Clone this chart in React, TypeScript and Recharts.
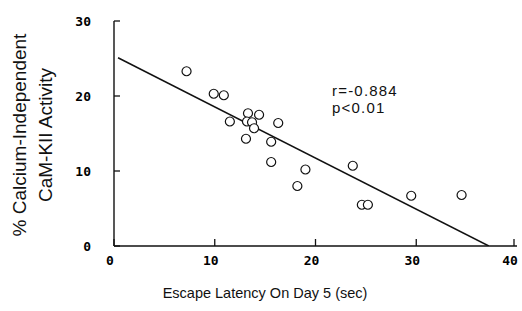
import React from 'react';
import { ScatterChart, Scatter, XAxis, YAxis, ZAxis } from 'recharts';

const latency = [7.2, 9.9, 10.9, 11.5, 13.3, 13.2, 13.7, 13.9, 14.4, 16.3, 13.1, 15.6, 15.6, 19.0, 18.2, 23.7, 24.6, 25.2, 29.5, 34.5];
const activity = [23.3, 20.3, 20.1, 16.6, 17.7, 16.6, 16.5, 15.7, 17.5, 16.4, 14.3, 13.9, 11.2, 10.2, 8.0, 10.7, 5.5, 5.5, 6.7, 6.8];
const fitX = [0.4, 37.2];
const fitY = [25.1, 0];
const xTicks = [0, 10, 20, 30, 40];
const yTicks = [0, 10, 20, 30];

const points = latency.map((x, i) => ({ x, y: activity[i] }));
const fit = fitX.map((x, i) => ({ x, y: fitY[i] }));

const tickFont = { fontFamily: '"DejaVu Sans Mono", monospace', fontSize: 13, fill: '#000', fontWeight: 600 };
const labelFont = '"Liberation Sans", Arial, sans-serif';

const Y_GAP = 23;
const X_GAP = 9;

const LeftTick = (p: any) => (
  <g>
    <line x1={p.x + Y_GAP} x2={p.x + Y_GAP + 6} y1={p.y} y2={p.y} stroke="#111" strokeWidth={1.3} />
    <text x={p.x} y={p.y} dy="0.35em" textAnchor="end" {...tickFont}>{p.payload.value}</text>
  </g>
);

const BottomTick = (p: any) => (
  <g>
    <line x1={p.x} x2={p.x} y1={p.y - X_GAP} y2={p.y - X_GAP - 7} stroke="#111" strokeWidth={1.3} />
    <text x={p.x - 4} y={p.y} dy="0.75em" textAnchor="middle" {...tickFont}>{p.payload.value}</text>
  </g>
);

const TopTick = (p: any) => (
  <line x1={p.x} x2={p.x} y1={p.y} y2={p.y + 4} stroke="#222" strokeWidth={1.1} />
);

const RightTick = (p: any) => (
  <line x1={p.x} x2={p.x - 4} y1={p.y} y2={p.y} stroke="#222" strokeWidth={1.1} />
);

export default function App() {
  return (
    <div style={{ position: 'absolute', left: 0, top: 0, width: 522, height: 311, background: '#fff' }}>
      <ScatterChart width={522} height={311} margin={{ top: 21, right: 5, bottom: 35, left: 54 }}>
        <XAxis
          xAxisId="bottom"
          type="number"
          dataKey="x"
          domain={[0, 40]}
          ticks={xTicks}
          height={30}
          orientation="bottom"
          stroke="#111"
          strokeWidth={1.4}
          tickLine={false}
          tickSize={0}
          tickMargin={X_GAP}
          tick={BottomTick}
          allowDataOverflow
        />
        <XAxis
          xAxisId="top"
          type="number"
          dataKey="x"
          domain={[0, 40]}
          ticks={xTicks}
          height={0}
          orientation="top"
          stroke="#222"
          strokeWidth={1.2}
          tickLine={false}
          tickSize={0}
          tickMargin={0}
          tick={TopTick}
        />
        <YAxis
          yAxisId="left"
          type="number"
          dataKey="y"
          domain={[0, 30]}
          ticks={yTicks}
          width={60}
          orientation="left"
          stroke="#111"
          strokeWidth={1.4}
          tickLine={false}
          tickSize={0}
          tickMargin={Y_GAP}
          tick={LeftTick}
          allowDataOverflow
        />
        <YAxis
          yAxisId="right"
          type="number"
          dataKey="y"
          domain={[0, 30]}
          ticks={yTicks}
          width={0}
          orientation="right"
          stroke="#222"
          strokeWidth={1.2}
          tickLine={false}
          tickSize={0}
          tickMargin={0}
          tick={RightTick}
        />
        <ZAxis range={[36, 36]} />
        <Scatter
          xAxisId="bottom"
          yAxisId="left"
          data={fit}
          line={{ stroke: '#111', strokeWidth: 1.5 }}
          shape={() => <g />}
          isAnimationActive={false}
        />
        <Scatter
          xAxisId="bottom"
          yAxisId="left"
          data={points}
          fill="#fff"
          stroke="#111"
          strokeWidth={1.2}
          isAnimationActive={false}
        />
      </ScatterChart>
      <svg width={522} height={311} style={{ position: 'absolute', left: 0, top: 0, pointerEvents: 'none' }}>
        <text x={332} y={96} fontFamily={labelFont} fontSize={15} fill="#111" letterSpacing={1.2}>r=-0.884</text>
        <text x={332} y={113} fontFamily={labelFont} fontSize={15} fill="#111" letterSpacing={1.2}>p&lt;0.01</text>
        <text x={265} y={298} textAnchor="middle" fontFamily={labelFont} fontSize={14.5} fill="#111">Escape Latency On Day 5 (sec)</text>
        <text x={26} y={135} transform="rotate(-90 26 135)" textAnchor="middle" fontFamily={labelFont} fontSize={19} fill="#111">% Calcium-Independent</text>
        <text x={52} y={135} transform="rotate(-90 52 135)" textAnchor="middle" fontFamily={labelFont} fontSize={19} fill="#111">CaM-KII Activity</text>
      </svg>
    </div>
  );
}
